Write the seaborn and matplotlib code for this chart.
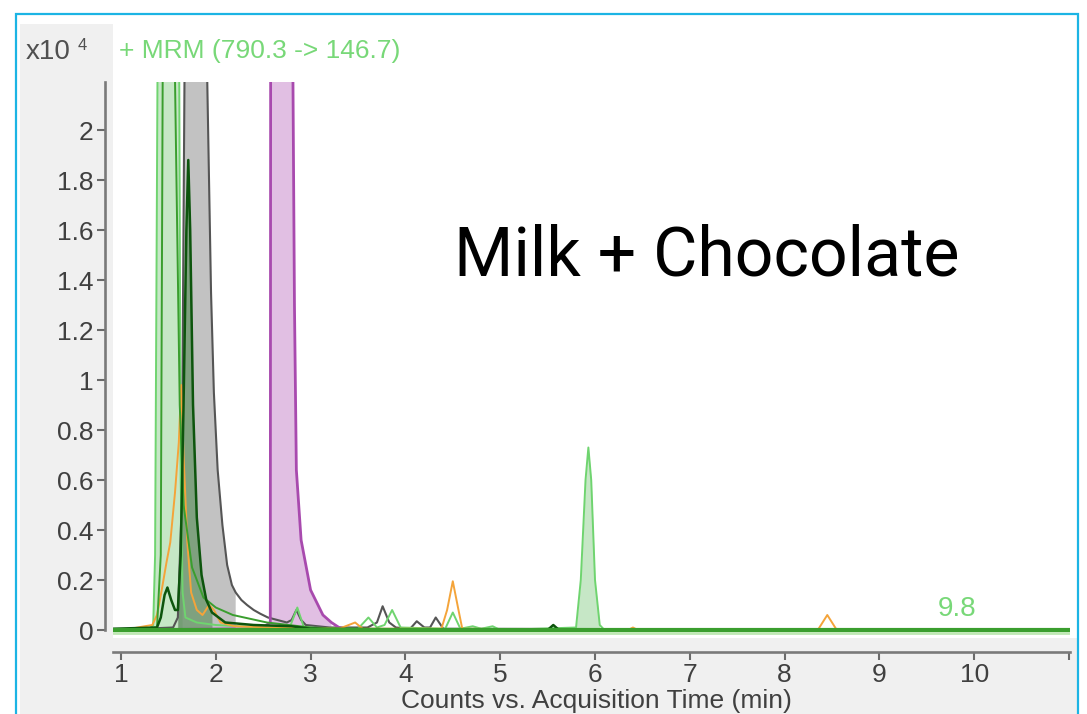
import matplotlib
matplotlib.use("Agg")
import matplotlib.pyplot as plt
import numpy as np
import pandas as pd
import seaborn as sns
from matplotlib.patches import Rectangle
from matplotlib.ticker import FuncFormatter

sns.set_theme(style="white")
plt.rcParams["font.family"] = ["Liberation Sans", "DejaVu Sans"]

# chromatogram traces, time in min, counts in x10^4
light_t = [0.92, 1.30, 1.34, 1.36, 1.385, 1.50, 1.615, 1.63, 1.65, 1.68, 1.80, 2.00, 2.50, 2.78, 2.86, 2.93,
           3.50, 3.61, 3.70, 3.78, 3.86, 3.95, 4.42, 4.50, 4.58, 4.71, 4.80, 4.92, 5.00, 5.80, 5.85, 5.90,
           5.93, 5.96, 6.00, 6.05, 6.10, 11.02]
light_c = [0.0, 0.005, 0.02, 0.3, 2.2, 6.0, 2.2, 0.6, 0.15, 0.05, 0.03, 0.02, 0.01, 0.01, 0.09, 0.01,
           0.005, 0.05, 0.01, 0.02, 0.08, 0.01, 0.005, 0.07, 0.005, 0.015, 0.005, 0.015, 0.0, 0.01, 0.2, 0.6,
           0.73, 0.6, 0.2, 0.02, 0.0, 0.0]

mid_t = [0.92, 1.38, 1.42, 1.44, 1.51, 1.57, 1.62, 1.66, 1.75, 1.87, 2.00, 2.18, 2.54, 3.00, 3.30, 11.02]
mid_c = [0.0, 0.01, 0.3, 2.2, 6.0, 2.2, 0.9, 0.5, 0.25, 0.13, 0.09, 0.06, 0.03, 0.01, 0.0, 0.0]

dark_t = [0.92, 1.38, 1.42, 1.46, 1.49, 1.53, 1.57, 1.60, 1.63, 1.66, 1.69, 1.71, 1.73, 1.76, 1.80, 1.85,
          1.90, 1.96, 2.10, 2.40, 2.80, 3.00, 5.50, 5.56, 5.62, 11.02]
dark_c = [0.005, 0.01, 0.05, 0.14, 0.17, 0.12, 0.08, 0.08, 0.3, 0.9, 1.6, 1.88, 1.6, 0.9, 0.45, 0.22,
          0.12, 0.07, 0.03, 0.02, 0.015, 0.005, 0.0, 0.02, 0.0, 0.0]

gray_t = [0.92, 1.55, 1.60, 1.64, 1.67, 1.79, 1.91, 1.95, 1.98, 2.02, 2.07, 2.12, 2.17, 2.21, 2.27, 2.33,
          2.40, 2.47, 2.55, 2.65, 2.75, 2.80, 2.85, 2.90, 2.95, 3.20, 3.60, 3.70, 3.76, 3.83, 3.90, 4.05,
          4.12, 4.20, 4.26, 4.32, 4.40, 11.02]
gray_c = [0.0, 0.01, 0.05, 0.5, 2.2, 7.0, 2.2, 1.35, 0.95, 0.64, 0.42, 0.26, 0.18, 0.15, 0.12, 0.10,
          0.08, 0.065, 0.05, 0.04, 0.03, 0.04, 0.08, 0.04, 0.02, 0.01, 0.01, 0.03, 0.095, 0.03, 0.01, 0.005,
          0.035, 0.01, 0.01, 0.05, 0.005, 0.0]

purple_t = [0.92, 2.30, 2.50, 2.575, 2.58, 2.70, 2.80, 2.83, 2.85, 2.90, 3.00, 3.13, 3.22, 3.30, 3.40, 11.02]
purple_c = [0.0, 0.005, 0.01, 0.03, 3.0, 9.0, 3.0, 1.3, 0.64, 0.36, 0.16, 0.06, 0.03, 0.01, 0.0, 0.0]

orange_t = [0.92, 1.10, 1.25, 1.33, 1.38, 1.43, 1.48, 1.52, 1.57, 1.61, 1.635, 1.66, 1.70, 1.74, 1.80,
            1.86, 1.93, 1.98, 2.05, 2.20, 2.60, 3.30, 3.47, 3.55, 4.38, 4.44, 4.50, 4.56, 4.60, 6.35, 6.40,
            6.45, 8.35, 8.40, 8.45, 8.50, 8.55, 11.02]
orange_c = [0.0, 0.005, 0.015, 0.02, 0.06, 0.16, 0.27, 0.35, 0.55, 0.75, 0.98, 0.7, 0.35, 0.15, 0.08,
            0.06, 0.10, 0.08, 0.03, 0.015, 0.01, 0.005, 0.03, 0.005, 0.005, 0.08, 0.195, 0.08, 0.005, 0.0, 0.01,
            0.0, 0.0, 0.03, 0.06, 0.03, 0.0, 0.0]

traces = {
    "light": (light_t, light_c),
    "mid": (mid_t, mid_c),
    "dark": (dark_t, dark_c),
    "gray": (gray_t, gray_c),
    "purple": (purple_t, purple_c),
    "orange": (orange_t, orange_c),
}

# integrated peak windows
windows = {
    "light": [(1.34, 1.65), (5.80, 6.05)],
    "gray": [(1.60, 2.21)],
    "dark": [(1.60, 1.96)],
    "purple": [(2.575, 3.22)],
}

line_colors = {"light": "#6fd46f", "mid": "#3a9e2e", "dark": "#0d550d",
               "gray": "#555555", "purple": "#a84aae", "orange": "#f4a43a"}
fill_colors = {"light": ("#8fd08f", 0.5), "gray": ("#a8a8a8", 0.7),
               "dark": ("#2f7a2f", 0.45), "purple": ("#c98ccc", 0.55)}
widths = {"light": 1.4, "mid": 1.4, "dark": 1.8, "gray": 1.5, "purple": 2.0, "orange": 1.4}
order = ["gray", "purple", "light", "orange", "mid", "dark"]

rows = []
for name, (t, c) in traces.items():
    for ti, ci in zip(t, c):
        rows.append((name, ti, ci))
df = pd.DataFrame(rows, columns=["trace", "time", "counts"])

W, H = 1087, 714
fig = plt.figure(figsize=(W / 100, H / 100), dpi=100)
fig.patch.set_facecolor("white")

# panel background like the instrument software
fig.add_artist(Rectangle((20 / W, 0), (113 - 20) / W, (H - 24) / H, transform=fig.transFigure,
                         facecolor="#f0f0f0", edgecolor="none", zorder=-10))
fig.add_artist(Rectangle((20 / W, 0), (1078 - 20) / W, (H - 638) / H, transform=fig.transFigure,
                         facecolor="#f0f0f0", edgecolor="none", zorder=-10))
fig.add_artist(Rectangle((16 / W, -0.1), (1078 - 16) / W, (H - 14) / H + 0.1, transform=fig.transFigure,
                         facecolor="none", edgecolor="#1cb4e4", linewidth=1.6, zorder=5))

ax = fig.add_axes([113 / W, 1 - 637 / H, (1070 - 113) / W, (637 - 82) / H])
ax.set_facecolor("white")

for name, spans in windows.items():
    sub = df[df.trace == name]
    t = sub.time.to_numpy()
    c = sub.counts.to_numpy()
    col, a = fill_colors[name]
    for lo, hi in spans:
        ax.fill_between(t, 0, c, where=(t >= lo) & (t <= hi), color=col, alpha=a, linewidth=0, zorder=1)

for name in order:
    sns.lineplot(data=df[df.trace == name], x="time", y="counts", sort=False, estimator=None,
                 color=line_colors[name], linewidth=widths[name], ax=ax, zorder=2)

# thick baseline of the overlaid traces
ax.axhline(0, color="#3a9e2e", linewidth=3, zorder=3)
ax.axhline(-0.012, color="#bfe8b4", linewidth=2, zorder=3)

ax.set_xlim(0.916, 11.01)
ax.set_ylim(-0.028, 2.192)
ax.set_xlabel("")
ax.set_ylabel("")

ax.set_xticks(range(1, 12))
ax.set_xticklabels([str(i) for i in range(1, 11)] + [""])
ax.set_yticks(np.arange(0, 2.01, 0.2))
ax.yaxis.set_major_formatter(FuncFormatter(lambda v, p: "%g" % round(v, 1)))

for s in ["top", "right"]:
    ax.spines[s].set_visible(False)
ax.spines["left"].set_position(("outward", 6))
ax.spines["left"].set_bounds(0, 2.192)
ax.spines["bottom"].set_position(("outward", 11))
for s in ["left", "bottom"]:
    ax.spines[s].set_color("#7a7a7a")
    ax.spines[s].set_linewidth(1.9)

ax.tick_params(axis="both", direction="out", length=6, width=1.5, color="#6a6a6a",
               labelsize=19, labelcolor="#404040")
ax.tick_params(axis="y", pad=2)
ax.tick_params(axis="x", pad=2)
ax.tick_params(bottom=True, left=True)

ax.text(9.82, 0.085, "9.8", color="#78d878", fontsize=20, ha="center", va="center")

fig.text(26 / W, 1 - 52 / H, "x10", color="#505050", fontsize=20, ha="left", va="center")
fig.text(78 / W, 1 - 45 / H, "4", color="#505050", fontsize=12, ha="left", va="center")
fig.text(119 / W, 1 - 51 / H, "+ MRM (790.3 -> 146.7)", color="#78d878", fontsize=19, ha="left", va="center")
fig.text(707 / W, 1 - 275 / H, "Milk + Chocolate", color="black", fontsize=49, ha="center", va="baseline",
         family=["Roboto", "DejaVu Sans"])
fig.text(596 / W, 1 - 713 / H, "Counts vs. Acquisition Time (min)", color="#404040", fontsize=19,
         ha="center", va="bottom")

fig.savefig("out.png", dpi=100)
